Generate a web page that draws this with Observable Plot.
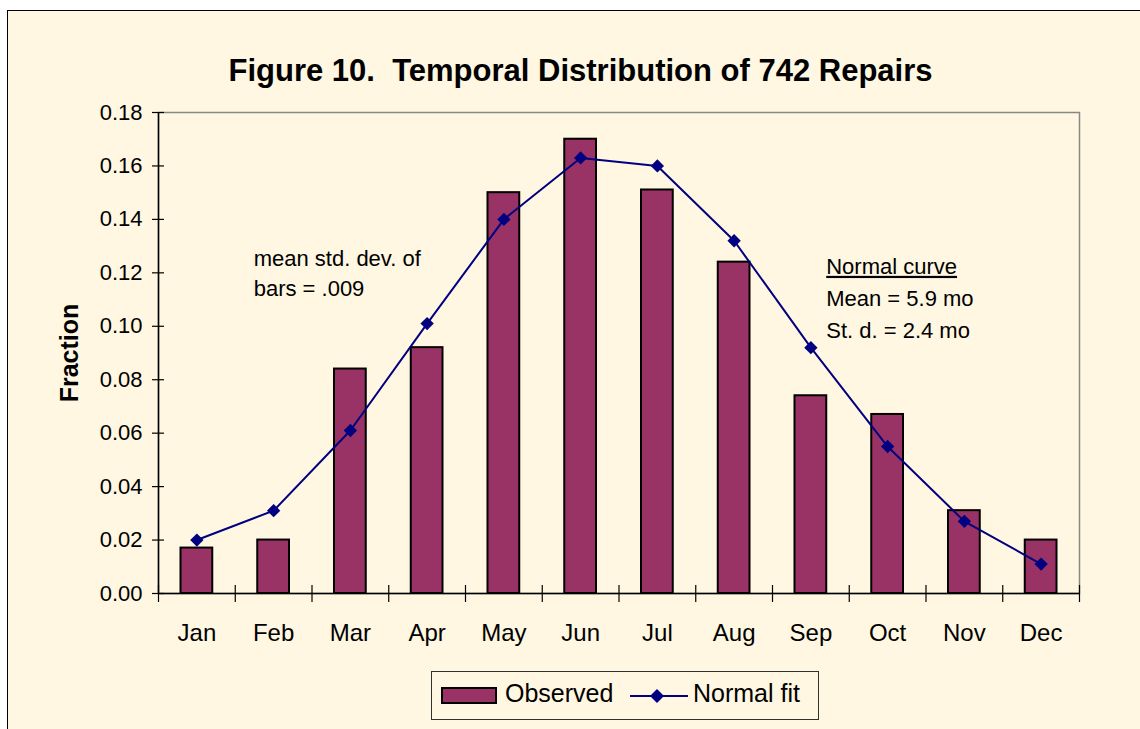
<!DOCTYPE html>
<html>
<head>
<meta charset="utf-8">
<script src="https://cdn.jsdelivr.net/npm/d3@7"></script>
<script src="https://cdn.jsdelivr.net/npm/@observablehq/plot@0.6"></script>
<style>
  html, body { margin: 0; padding: 0; background: #ffffff; }
  body { font-family: "Liberation Sans", Arial, sans-serif; }
  #wrap { position: relative; width: 1140px; height: 729px; overflow: hidden; background: #ffffff; }
  #panel { position: absolute; left: 7px; top: 10px; width: 1140px; height: 730px;
           background: #fff7e1; border-left: 1.5px solid #000; border-top: 1.5px solid #000; }
  #chart { position: absolute; left: 0; top: 0; }
  #title { position: absolute; left: 0; width: 1161px; top: 55px; text-align: center;
           font-size: 31px; line-height: 31px; font-weight: bold; white-space: pre; color: #000; }
  #ylabel { position: absolute; left: 69px; top: 353px; transform: translate(-50%, -50%) rotate(-90deg);
            font-size: 25px; line-height: 25px; font-weight: bold; white-space: nowrap; color: #000; }
  #legend { position: absolute; left: 431px; top: 671px; width: 386px; height: 47px;
            border: 1px solid #303030; background: #fff7e1; }
  .lg { position: absolute; }
  .lgtext { font-size: 25px; line-height: 25px; color: #000; white-space: nowrap; }
</style>
</head>
<body>
<div id="wrap">
  <div id="panel"></div>
  <div id="chart"></div>
  <div id="title">Figure 10.  Temporal Distribution of 742 Repairs</div>
  <div id="ylabel">Fraction</div>
  <div id="legend">
    <div class="lg" style="left:9px; top:15px; width:52px; height:13px; background:#993366; border:2px solid #000;"></div>
    <div class="lg lgtext" style="left:73px; top:9px;">Observed</div>
    <svg class="lg" style="left:197px; top:14px;" width="60" height="20">
      <line x1="1" y1="10" x2="59" y2="10" stroke="#000080" stroke-width="2"></line>
      <path d="M28,3 L35,10 L28,17 L21,10 Z" fill="#000080"></path>
    </svg>
    <div class="lg lgtext" style="left:261px; top:9px;">Normal fit</div>
  </div>
</div>
<script>
const months = ["Jan","Feb","Mar","Apr","May","Jun","Jul","Aug","Sep","Oct","Nov","Dec"];
const observed = [0.017, 0.020, 0.084, 0.092, 0.150, 0.170, 0.151, 0.124, 0.074, 0.067, 0.031, 0.020];
const normalFit = [0.020, 0.031, 0.061, 0.101, 0.140, 0.163, 0.160, 0.132, 0.092, 0.055, 0.027, 0.011];
const yTicks = [0, 0.02, 0.04, 0.06, 0.08, 0.10, 0.12, 0.14, 0.16, 0.18];
const seriesNames = ["Observed", "Normal fit"];

const data = months.map((m, i) => ({month: m, i, obs: observed[i], fit: normalFit[i]}));
const boundaries = d3.range(months.length + 1);
const centers = months.map((m, i) => i + 0.5);

const chart = Plot.plot({
  width: 1140,
  height: 729,
  marginLeft: 158,
  marginRight: 61,
  marginTop: 112,
  marginBottom: 136,
  style: {background: "transparent", fontFamily: "'Liberation Sans', Arial, sans-serif", color: "#000", overflow: "visible"},
  x: {domain: [0, 12], label: null},
  y: {domain: [0, 0.18], label: null},
  marks: [
    Plot.frame({stroke: "#888888", strokeWidth: 1.5}),
    Plot.rect(data, {x1: "i", x2: d => d.i + 1, y1: 0, y2: "obs", insetLeft: 22.5, insetRight: 22.5,
                     fill: "#993366", stroke: "#000", strokeWidth: 2}),
    Plot.line(data, {x: d => d.i + 0.5, y: "fit", stroke: "#000080", strokeWidth: 2}),
    Plot.dot(data, {x: d => d.i + 0.5, y: "fit", symbol: "diamond2", r: 6, fill: "#000080", stroke: "none"}),
    Plot.ruleX([0], {stroke: "#000", strokeWidth: 1.5}),
    Plot.ruleY([0], {stroke: "#000", strokeWidth: 1.5}),
    Plot.axisY(yTicks, {tickSize: 12, dx: 6, tickFormat: () => "", label: null, stroke: "#000", strokeWidth: 1.2}),
    Plot.axisY(yTicks, {tickSize: 0, tickPadding: 16, tickFormat: d3.format(".2f"), label: null, fontSize: 22}),
    Plot.axisX(boundaries, {tickSize: 17, dy: -8, tickFormat: () => "", label: null, stroke: "#000", strokeWidth: 1.2}),
    Plot.axisX(centers, {tickSize: 0, tickPadding: 30, tickFormat: d => months[Math.floor(d)], label: null, fontSize: 24}),
    Plot.text(["mean std. dev. of\nbars = .009"], {x: 1.24, y: 0.1205, textAnchor: "start", lineAnchor: "middle",
                     lineHeight: 1.36, fontSize: 22, fill: "#000"}),
    Plot.text(["Normal curve\nMean = 5.9 mo\nSt. d. = 2.4 mo"], {x: 8.70, y: 0.1115, textAnchor: "start", lineAnchor: "middle",
                     lineHeight: 1.45, fontSize: 22, fill: "#000"})
  ]
});

d3.select(chart).selectAll("tspan, text").filter(function() {
  return this.childElementCount === 0 && this.textContent === "Normal curve";
}).attr("text-decoration", "underline");

document.getElementById("chart").appendChild(chart);
</script>
</body>
</html>
